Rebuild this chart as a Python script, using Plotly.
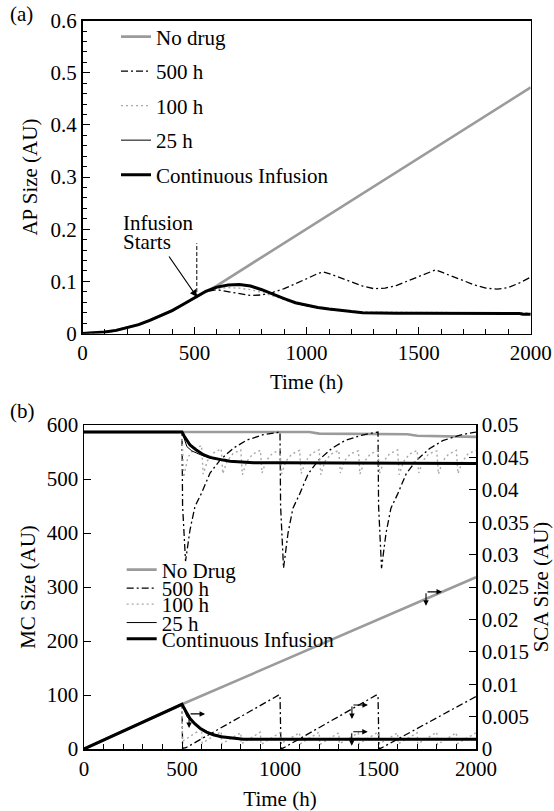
import plotly.graph_objects as go

FONT = "Liberation Serif, Times New Roman, serif"
BLACK = "#000000"
GRAY = "#9b9b9b"
GRAY_DOT = "#a8a8a8"
FS = 21

# ---------------- Panel (a): AP Size (AU) ----------------
a_t_nodrug = [0, 50, 100, 150, 200, 250, 300, 350, 400, 450, 500, 550, 600, 2000]
a_nodrug = [0, 0.001, 0.003, 0.006, 0.011, 0.017, 0.025, 0.034, 0.044, 0.056, 0.068, 0.080, 0.092, 0.472]

a_t_500 = [0, 50, 100, 150, 200, 250, 300, 350, 400, 450, 500,
           550, 600, 650, 700, 750, 800, 850, 900, 950, 1000, 1050, 1075, 1100, 1150, 1200,
           1250, 1300, 1350, 1400, 1450, 1500, 1550, 1575, 1600, 1650, 1700, 1750, 1800,
           1850, 1900, 1950, 2000]
a_500 = [0, 0.001, 0.003, 0.006, 0.011, 0.017, 0.025, 0.034, 0.044, 0.056, 0.068,
         0.080, 0.084, 0.080, 0.076, 0.073, 0.074, 0.079, 0.086, 0.095, 0.105, 0.115, 0.118, 0.115, 0.107, 0.099,
         0.091, 0.086, 0.087, 0.092, 0.101, 0.110, 0.119, 0.122, 0.118, 0.110, 0.101, 0.093, 0.087,
         0.085, 0.088, 0.097, 0.108]

a_t_100 = [0, 50, 100, 150, 200, 250, 300, 350, 400, 450, 500,
           550, 600, 650, 700, 750, 800, 850, 900, 950, 1000, 1050, 1100, 1150, 1200,
           1300, 1400, 1500, 1600, 1700, 1800, 1900, 2000]
a_100 = [0, 0.001, 0.003, 0.006, 0.011, 0.017, 0.025, 0.034, 0.044, 0.056, 0.068,
         0.080, 0.086, 0.088, 0.087, 0.084, 0.079, 0.072, 0.065, 0.058, 0.053, 0.049, 0.046, 0.044, 0.042,
         0.041, 0.0405, 0.040, 0.040, 0.040, 0.040, 0.040, 0.040]

a_t_25 = [0, 50, 100, 150, 200, 250, 300, 350, 400, 450, 500,
          550, 600, 650, 700, 750, 800, 850, 900, 950, 1000, 1050, 1100, 1150, 1200, 1250,
          1300, 1400, 1600, 1800, 2000]
a_25 = [0, 0.001, 0.003, 0.006, 0.011, 0.017, 0.025, 0.034, 0.044, 0.056, 0.068,
        0.081, 0.089, 0.093, 0.094, 0.090, 0.083, 0.075, 0.067, 0.059, 0.053, 0.049, 0.046, 0.044, 0.042, 0.040,
        0.0395, 0.039, 0.039, 0.0385, 0.038]

a_t_cont = [0, 50, 100, 150, 200, 250, 300, 350, 400, 450, 500,
            550, 600, 650, 700, 750, 800, 850, 900, 950, 1000, 1050, 1100, 1150, 1200, 1250,
            1300, 1400, 1500, 1600, 1700, 1800, 1900, 1950, 1965, 2000]
a_cont = [0, 0.001, 0.003, 0.006, 0.011, 0.017, 0.025, 0.034, 0.044, 0.056, 0.068,
          0.081, 0.089, 0.093, 0.094, 0.091, 0.084, 0.075, 0.067, 0.059, 0.054, 0.050, 0.047, 0.044, 0.042, 0.040,
          0.0395, 0.039, 0.039, 0.0388, 0.0387, 0.0386, 0.0385, 0.0385, 0.037, 0.037]

# ---------------- Panel (b): MC Size (left) and SCA Size (right) ----------------
# MC size (upper curves, left axis)
b_t_nodrug_mc = [0, 500, 1150, 1200, 1650, 1700, 2000]
b_nodrug_mc = [587, 587, 587, 584, 583, 580, 578]

b_t_500_mc = [0, 500, 503, 518, 541, 566, 600, 643, 694, 762, 830, 915, 983,
              1000, 1003, 1018, 1041, 1066, 1100, 1143, 1194, 1262, 1330, 1415, 1483,
              1500, 1503, 1518, 1541, 1566, 1600, 1643, 1694, 1762, 1830, 1915, 1983, 2000]
b_500_mc = [587, 587, 450, 348, 406, 449, 474, 511, 535, 557, 572, 582, 586,
            587, 450, 335, 400, 446, 472, 509, 534, 556, 571, 581, 586,
            587, 450, 335, 400, 446, 472, 509, 534, 556, 571, 581, 586, 587]

b_t_100_mc = [0, 500, 508, 530, 560,
              600, 608, 630, 660, 700, 708, 730, 760, 800, 808, 830, 860,
              900, 908, 930, 960, 1000, 1008, 1030, 1060, 1100, 1108, 1130, 1160,
              1200, 1208, 1230, 1260, 1300, 1308, 1330, 1360, 1400, 1408, 1430, 1460,
              1500, 1508, 1530, 1560, 1600, 1608, 1630, 1660, 1700, 1708, 1730, 1760,
              1800, 1808, 1830, 1860, 1900, 1908, 1930, 1960, 2000]
b_100_mc = [587, 587, 503, 540, 556,
            562, 509, 534, 548, 556, 510, 533, 547, 554, 508, 532, 546,
            553, 511, 534, 547, 554, 509, 533, 546, 553, 510, 532, 547,
            554, 508, 533, 546, 553, 511, 534, 547, 552, 509, 532, 546,
            553, 510, 533, 547, 554, 508, 532, 546, 553, 511, 534, 547,
            552, 509, 533, 546, 553, 510, 532, 547, 553]

b_t_25_mc = [0, 500, 525, 550, 600, 650, 700, 800, 1000, 1500, 2000]
b_25_mc = [587, 587, 560, 552, 544, 538, 535, 531, 530, 529, 528]

b_t_cont_mc = [0, 500, 510, 520, 530, 541, 575, 609, 643, 677, 711, 745, 800, 864, 1000, 1200, 1500, 2000]
b_cont_mc = [587, 587, 580, 574, 568, 563, 553, 545, 540, 537, 535, 533, 531.5, 530, 530, 529.5, 529, 528.5]

# SCA size (lower curves, right axis)
b_t_nodrug_sca = [0, 500, 2000]
b_nodrug_sca = [0, 0.0069, 0.0265]

b_t_500_sca = [0, 500, 503, 520, 992, 1000, 1005, 1020, 1490, 1500, 1505, 1520, 2000]
b_500_sca = [0, 0.0069, 0.0001, 0.0002, 0.0083, 0.0083, 0.0000, 0.0002, 0.0083, 0.0083, 0.0000, 0.0002, 0.0081]

b_t_100_sca = [0, 500, 503, 600, 603, 700, 703, 800, 803, 900, 903, 1000, 1003, 1100, 1103,
               1200, 1203, 1300, 1303, 1400, 1403, 1500, 1503, 1600, 1603, 1700, 1703,
               1800, 1803, 1900, 1903, 2000]
b_100_sca = [0, 0.0069, 0.0012, 0.0031, 0.0009, 0.0027, 0.0008, 0.0025, 0.0008, 0.0026, 0.0007,
             0.0025, 0.0008, 0.0025, 0.0008, 0.0026, 0.0007, 0.0025, 0.0008, 0.0025, 0.0008,
             0.0026, 0.0007, 0.0025, 0.0008, 0.0025, 0.0008, 0.0026, 0.0007, 0.0025, 0.0008, 0.0025]

b_t_25_sca = [0, 500, 525, 550, 600, 650, 700, 750, 800, 1000, 2000]
b_25_sca = [0, 0.0069, 0.0050, 0.0042, 0.0031, 0.0024, 0.0020, 0.0017, 0.0016, 0.0015, 0.0015]

b_t_cont_sca = [0, 500, 520, 541, 565, 592, 625, 660, 700, 745, 813, 1000, 1500, 2000]
b_cont_sca = [0, 0.0069, 0.0058, 0.0047, 0.0039, 0.0032, 0.0026, 0.0022, 0.0019, 0.0017, 0.0015, 0.0015, 0.0015, 0.0015]

# ---------------- Labels / ticks ----------------
a_legend_names = ["No drug", "500 h", "100 h", "25 h", "Continuous Infusion"]
b_legend_names = ["No Drug", "500 h", "100 h", "25 h", "Continuous Infusion"]
x_tickvals = [0, 500, 1000, 1500, 2000]
x_ticktext = ["0", "500", "1000", "1500", "2000"]
a_y_tickvals = [0, 0.1, 0.2, 0.3, 0.4, 0.5, 0.6]
a_y_ticktext = ["0", "0.1", "0.2", "0.3", "0.4", "0.5", "0.6"]
b_mc_tickvals = [0, 100, 200, 300, 400, 500, 600]
b_mc_ticktext = ["0", "100", "200", "300", "400", "500", "600"]
b_sca_tickvals = [0, 0.005, 0.01, 0.015, 0.02, 0.025, 0.03, 0.035, 0.04, 0.045, 0.05]
b_sca_ticktext = ["0", "0.005", "0.01", "0.015", "0.02", "0.025", "0.03", "0.035", "0.04", "0.045", "0.05"]

# arrow markers in panel (b): corner (time, MC-axis value)
b_arrow_corners = [(1745, 291), (536, 65), (1367, 81.5), (1366, 32)]

# ---------------- Styles ----------------
W, H = 554, 811
styles = [
    dict(color=GRAY, width=2.6, dash="solid"),
    dict(color=BLACK, width=1.3, dash="7px,3px,2px,3px"),
    dict(color=GRAY_DOT, width=1.4, dash="2px,3px"),
    dict(color=BLACK, width=1.0, dash="solid"),
    dict(color=BLACK, width=3.0, dash="solid"),
]

fig = go.Figure()

a_series = [(a_t_nodrug, a_nodrug), (a_t_500, a_500), (a_t_100, a_100), (a_t_25, a_25), (a_t_cont, a_cont)]
for i, ((tx, ty), name) in enumerate(zip(a_series, a_legend_names)):
    fig.add_trace(go.Scatter(x=tx, y=ty, mode="lines", name=name, line=styles[i],
                             xaxis="x", yaxis="y", legend="legend", legendgroup="a%d" % i,
                             hoverinfo="skip"))

b_mc_series = [(b_t_nodrug_mc, b_nodrug_mc), (b_t_500_mc, b_500_mc), (b_t_100_mc, b_100_mc),
               (b_t_25_mc, b_25_mc), (b_t_cont_mc, b_cont_mc)]
b_sca_series = [(b_t_nodrug_sca, b_nodrug_sca), (b_t_500_sca, b_500_sca), (b_t_100_sca, b_100_sca),
                (b_t_25_sca, b_25_sca), (b_t_cont_sca, b_cont_sca)]
for i, ((tx, ty), name) in enumerate(zip(b_mc_series, b_legend_names)):
    fig.add_trace(go.Scatter(x=tx, y=ty, mode="lines", name=name, line=styles[i],
                             xaxis="x2", yaxis="y2",
                             legend="legend2" if i % 2 == 0 else "legend3",
                             legendgroup="b%d" % i, hoverinfo="skip"))
for i, (tx, ty) in enumerate(b_sca_series):
    fig.add_trace(go.Scatter(x=tx, y=ty, mode="lines", showlegend=False, line=styles[i],
                             xaxis="x2", yaxis="y3", legendgroup="b%d" % i, hoverinfo="skip"))

tickfont = dict(family=FONT, size=FS, color=BLACK)
titlefont = dict(family=FONT, size=FS, color=BLACK)
axis_common = dict(showline=True, linecolor=BLACK, linewidth=1.5, showgrid=False, zeroline=False,
                   ticks="inside", tickcolor=BLACK, tickwidth=1, tickfont=tickfont, automargin=False)

# pixel geometry -> paper domains
ax_l, ax_r, ay_t, ay_b = 82.5, 530.7, 20.7, 333.5
bx_l, bx_r, by_t, by_b = 84.0, 476.0, 425.0, 749.0

legend_common = dict(xanchor="left", yanchor="top", bgcolor="rgba(0,0,0,0)",
                     font=dict(family=FONT, size=FS, color=BLACK),
                     tracegroupgap=4.2, traceorder="grouped")

fig.update_layout(
    width=W, height=H,
    margin=dict(l=0, r=0, t=0, b=0),
    paper_bgcolor="white", plot_bgcolor="white",
    font=dict(family=FONT, size=FS, color=BLACK),
    xaxis=dict(domain=[ax_l / W, ax_r / W], anchor="y", range=[0, 2000],
               tickvals=x_tickvals, ticktext=x_ticktext, ticklen=7, mirror=True,
               minor=dict(dtick=100, ticks="inside", ticklen=5, tickcolor=BLACK, showgrid=False),
               title=dict(text="Time (h)", font=titlefont, standoff=10), **axis_common),
    yaxis=dict(domain=[1 - ay_b / H, 1 - ay_t / H], anchor="x", range=[0, 0.6],
               tickvals=a_y_tickvals, ticktext=a_y_ticktext, ticklen=7, mirror=True,
               minor=dict(dtick=0.02, ticks="inside", ticklen=4, tickcolor=BLACK, showgrid=False),
               title=dict(text="AP Size (AU)", font=titlefont, standoff=7), **axis_common),
    xaxis2=dict(domain=[bx_l / W, bx_r / W], anchor="y2", range=[0, 2000],
                tickvals=x_tickvals, ticktext=x_ticktext, ticklen=7, mirror=True,
                minor=dict(dtick=100, ticks="inside", ticklen=5, tickcolor=BLACK, showgrid=False),
                title=dict(text="Time (h)", font=titlefont, standoff=13), **axis_common),
    yaxis2=dict(domain=[1 - by_b / H, 1 - by_t / H], anchor="x2", range=[0, 600],
                tickvals=b_mc_tickvals, ticktext=b_mc_ticktext, ticklen=7,
                title=dict(text="MC Size (AU)", font=titlefont, standoff=5), **axis_common),
    yaxis3=dict(overlaying="y2", anchor="x2", side="right", range=[0, 0.05],
                tickvals=b_sca_tickvals, ticktext=b_sca_ticktext, ticklen=7,
                title=dict(text="SCA Size (AU)", font=titlefont, standoff=0), **axis_common),
    legend=dict(x=116 / W, y=1 - 16.5 / H, **legend_common),
    legend2=dict(x=121.7 / W, y=1 - 549.5 / H, **legend_common),
    legend3=dict(x=121.7 / W, y=1 - 567.9 / H, **legend_common),
    showlegend=True,
)

annotations = [
    dict(text="(a)", x=8 / W, y=1 - 14 / H, xref="paper", yref="paper", xanchor="left",
         yanchor="middle", showarrow=False, font=titlefont),
    dict(text="(b)", x=8 / W, y=1 - 411 / H, xref="paper", yref="paper", xanchor="left",
         yanchor="middle", showarrow=False, font=titlefont),
    dict(text="Infusion", x=172, y=0.2125, xref="x", yref="y", xanchor="left", yanchor="middle",
         showarrow=False, font=titlefont),
    dict(text="Starts", x=172, y=0.176, xref="x", yref="y", xanchor="left", yanchor="middle",
         showarrow=False, font=titlefont),
    dict(text="", x=511, y=0.070, xref="x", yref="y", ax=-29, ay=-42, showarrow=True,
         arrowhead=2, arrowsize=1.2, arrowwidth=1.2, arrowcolor=BLACK),
]
px_t = 2000 / (bx_r - bx_l)
px_mc = 600 / (by_b - by_t)
for (tc, mc) in b_arrow_corners:
    annotations.append(dict(text="", x=tc + 16 * px_t, y=mc, xref="x2", yref="y2", ax=-16, ay=0,
                            showarrow=True, arrowhead=2, arrowsize=1, arrowwidth=1.1, arrowcolor=BLACK))
    annotations.append(dict(text="", x=tc, y=mc - 14 * px_mc, xref="x2", yref="y2", ax=0, ay=-14,
                            showarrow=True, arrowhead=2, arrowsize=1, arrowwidth=1.1, arrowcolor=BLACK))
fig.update_layout(annotations=annotations)

fig.add_shape(type="line", x0=510, x1=510, y0=0.068, y1=0.173, xref="x", yref="y",
              line=dict(color=BLACK, width=1, dash="4px,2px"))

fig.write_html("out.html", config={"displayModeBar": False, "staticPlot": True},
               post_script="document.body.style.margin='0';document.body.style.overflow='hidden';")
